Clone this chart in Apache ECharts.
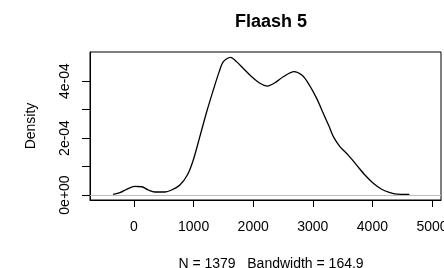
<!DOCTYPE html>
<html>
<head>
<meta charset="utf-8">
<script src="https://cdn.jsdelivr.net/npm/echarts@6/dist/echarts.min.js"></script>
<style>
  html, body { margin: 0; padding: 0; background: #fff; }
  #chart { width: 444px; height: 268px; }
</style>
</head>
<body>
<div id="chart"></div>
<script>
// density estimate (x in data units, y in density)
const densX = [-350, -235, -125, 15, 130, 240, 350, 520, 630, 770, 895, 995, 1105, 1220, 1330, 1430, 1500, 1620, 1720, 1835,
  1975, 2115, 2235, 2365, 2505, 2685, 2815, 2925, 3065, 3175, 3275, 3345, 3455, 3595, 3735, 3875, 4015, 4155, 4295, 4410, 4620];
const densY = [0.02, 0.08, 0.2, 0.3, 0.29, 0.175, 0.105, 0.105, 0.175, 0.35, 0.7, 1.23, 2.05, 2.92, 3.68, 4.33, 4.68, 4.83, 4.68, 4.44,
  4.15, 3.92, 3.82, 3.94, 4.15, 4.33, 4.21, 3.92, 3.39, 2.87, 2.4, 2.05, 1.7, 1.4, 1.05, 0.7, 0.41, 0.2, 0.08, 0.03, 0.02].map(v => v * 1e-4);

const xTicks = [0, 1000, 2000, 3000, 4000, 5000];
const yTicks = [0, 1e-4, 2e-4, 3e-4, 4e-4];
const yLabelValues = [0, 2e-4, 4e-4];
const yLabelText = ["0e+00", "2e-04", "4e-04"];

const titleText = "Flaash 5";
const subText = "N = 1379   Bandwidth = 164.9";
const yName = "Density";

const font = "Liberation Sans, Arial, sans-serif";
const chart = echarts.init(document.getElementById("chart"), null, { renderer: "canvas" });

chart.setOption({
  animation: false,
  title: [
    { text: titleText, left: 266, top: 8, textAlign: "center",
      textStyle: { fontFamily: font, fontSize: 18, fontWeight: "bold", color: "#000" } },
    { text: subText, left: 266, top: 252, textAlign: "center",
      textStyle: { fontFamily: font, fontSize: 14, fontWeight: "normal", color: "#000" } },
  ],
  grid: { left: 90, right: 3, top: 52, bottom: 68, outerBoundsMode: "none", containLabel: false,
    show: true, borderColor: "#000", borderWidth: 1, backgroundColor: "transparent" },
  xAxis: {
    type: "value",
    min: -738,
    max: 5151,
    splitLine: { show: false },
    axisLine: { show: true, onZero: false, lineStyle: { color: "#000", width: 1 } },
    axisTick: { show: true, inside: false, length: 7, customValues: xTicks, lineStyle: { color: "#000", width: 1 } },
    axisLabel: { customValues: xTicks, margin: 20, color: "#000", fontFamily: font, fontSize: 14, formatter: v => String(v) },
  },
  yAxis: {
    type: "value",
    min: -1.754e-5,
    max: 5.018e-4,
    name: yName,
    nameLocation: "middle",
    nameRotate: 90,
    nameGap: 52,
    nameTextStyle: { fontFamily: font, fontSize: 14, color: "#000" },
    splitLine: { show: false },
    axisLine: { show: true, onZero: false, lineStyle: { color: "#000", width: 1 } },
    axisTick: { show: true, inside: false, length: 8, customValues: yTicks, lineStyle: { color: "#000", width: 1 } },
    axisLabel: {
      customValues: yLabelValues,
      rotate: 90,
      margin: 18,
      color: "#000",
      fontFamily: font,
      fontSize: 14,
      formatter: v => {
        const i = yLabelValues.findIndex(t => Math.abs(t - v) < 1e-9);
        return i >= 0 ? yLabelText[i] : "";
      },
    },
  },
  series: [{
    type: "line",
    data: densX.map((x, i) => [x, densY[i]]),
    smooth: 0.3,
    showSymbol: false,
    lineStyle: { color: "#000", width: 1.3 },
    markLine: {
      silent: true,
      symbol: "none",
      label: { show: false },
      lineStyle: { color: "#bebebe", type: "solid", width: 1 },
      data: [{ yAxis: 0 }],
    },
  }],
});
</script>
</body>
</html>
